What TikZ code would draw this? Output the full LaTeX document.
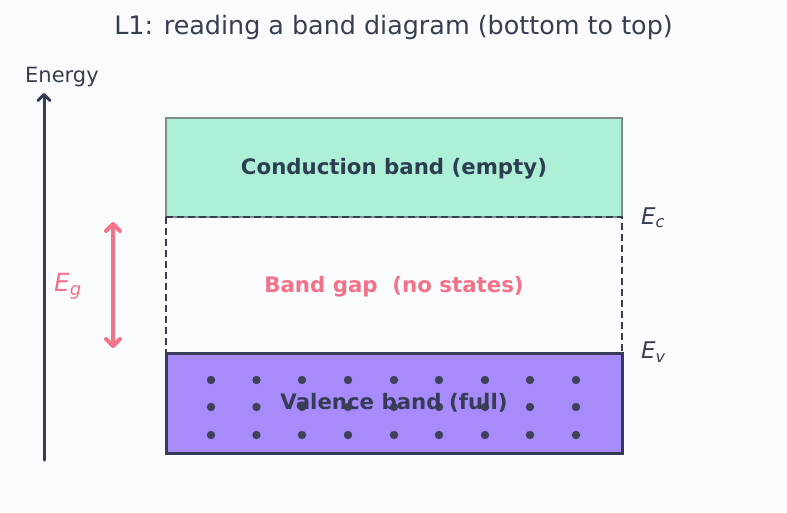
\documentclass[tikz,border=0pt]{standalone}
\usepackage{fontspec}
\setmainfont{DejaVu Sans}
\usetikzlibrary{arrows.meta}
\definecolor{bg}{HTML}{FAFBFD}
\definecolor{ink}{HTML}{363E50}
\definecolor{dark}{HTML}{363B57}
\definecolor{cfill}{HTML}{AEEFD8}
\definecolor{cedge}{HTML}{7F8C8D}
\definecolor{vfill}{HTML}{A78BFA}
\definecolor{pinkc}{HTML}{F27289}
\definecolor{dotc}{HTML}{3F4159}
\definecolor{ctext}{HTML}{2C3E50}
\tikzset{
  lbl/.style={inner sep=0pt, text=ink},
  bandtext/.style={inner sep=0pt, anchor=base, font=\bfseries\fontsize{21.3}{25}\selectfont},
  gapline/.style={draw=ink, line width=2pt, dash pattern=on 7pt off 4pt},
}
\begin{document}
\begin{tikzpicture}[x=1pt,y=-1pt]
\fill[bg] (0,0) rectangle (787,512);
\useasboundingbox (0,0) rectangle (787,512);
% title
\node[lbl, anchor=base, font=\fontsize{25.4}{30}\selectfont] (title) at (393.5,34.5) {L1: reading a band diagram (bottom to top)};
% energy axis
\node[lbl, font=\fontsize{21}{25}\selectfont, anchor=base west] (energy) at (25,82) {Energy};
\coordinate (axb) at (44,460);
\coordinate (axt) at (44,93);
\draw[dark, line width=3pt, line cap=round, -{Straight Barb[length=6pt,width=12pt,round]}] (axb) -- (axt);
% conduction band
\draw[fill=cfill, draw=cedge, line width=2.5pt] (166,118) rectangle (622,217);
\node[bandtext, text=ctext] (cb) at (394,174) {Conduction band (empty)};
% gap
\draw[gapline] (166,217) rectangle (622,353);
\node[bandtext, text=pinkc] (gap) at (394,292.5) {Band gap\ \ (no states)};
% valence band
\draw[fill=vfill, draw=dark, line width=3pt] (166,353) rectangle (622,453);
\foreach \x in {211,256.5,302,348,394,439,485,530,576}
  \foreach \y in {380,407,435}
    \fill[dotc] (\x,\y) circle (4.2pt);
\node[bandtext, text=dark] (vb) at (394,409.5) {Valence band (full)};
% Eg arrow
\coordinate (ega) at (113,222);
\coordinate (egb) at (113,348);
\draw[pinkc, line width=4pt, line cap=round, {Straight Barb[length=7pt,width=14pt,round]}-{Straight Barb[length=7pt,width=14pt,round]}] (ega) -- (egb);
\node[inner sep=0pt, anchor=base west, text=pinkc, font=\fontsize{25}{29}\selectfont] (eg) at (54,291) {\itshape E\raisebox{-0.3ex}{\fontsize{18}{21}\selectfont g}};
\node[lbl, font=\fontsize{23}{27}\selectfont, anchor=base west] (ec) at (641,224) {\itshape E\raisebox{-0.3ex}{\fontsize{16}{19}\selectfont c}};
\node[lbl, font=\fontsize{23}{27}\selectfont, anchor=base west] (ev) at (641,358.5) {\itshape E\raisebox{-0.3ex}{\fontsize{16}{19}\selectfont v}};
\end{tikzpicture}
\end{document}
